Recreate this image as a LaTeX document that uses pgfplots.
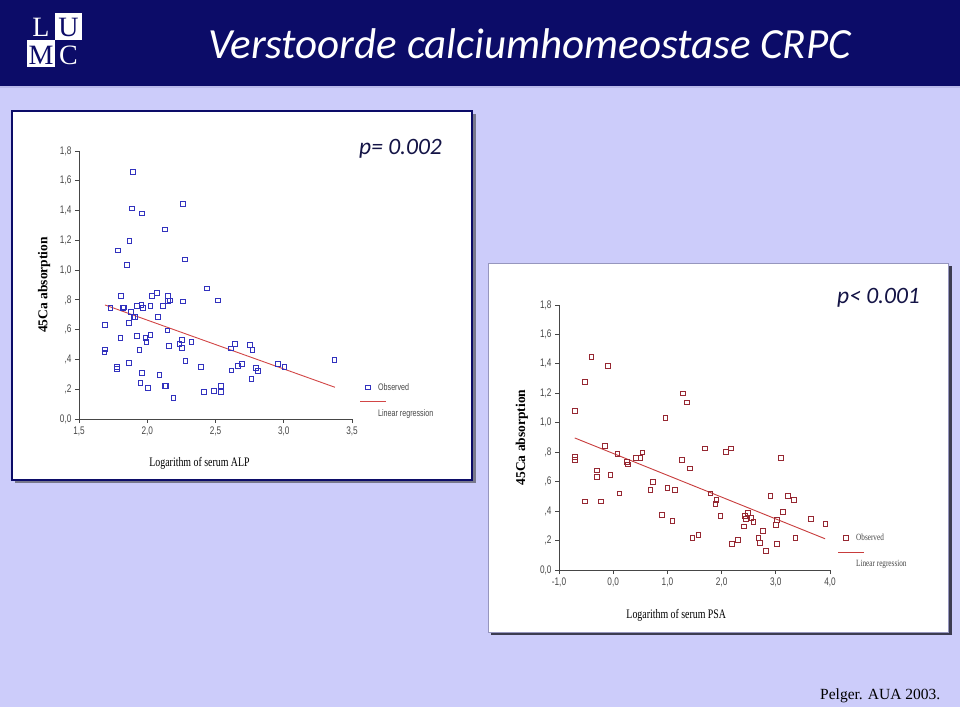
\documentclass[border=0pt]{standalone}
\usepackage{fontspec}
\setmainfont{Liberation Serif}
\newfontfamily\calibri{Carlito}
\newfontfamily\ticksans[FakeStretch=0.75]{Liberation Sans}
\newfontfamily\narrowserif[FakeStretch=0.76]{Liberation Serif}
\usepackage{pgfplots}
\pgfplotsset{compat=1.18}

\definecolor{slidebg}{RGB}{204,204,250}
\definecolor{banner}{RGB}{12,12,104}
\definecolor{ptext}{RGB}{20,20,70}
\definecolor{axisgray}{RGB}{70,70,70}
\definecolor{obsblue}{RGB}{50,50,190}
\definecolor{regred}{RGB}{210,70,70}
\definecolor{obsred}{RGB}{150,40,50}
\definecolor{regred2}{RGB}{200,60,60}

% one SPSS-like scatter panel
\pgfplotsset{
  spss/.style={
    scale only axis, anchor=south west,
    ymin=0, ymax=1.8,
    axis lines=left,
    axis line style={-, draw=axisgray, line width=0.8pt},
    tick align=outside, major tick length=4pt,
    tick style={draw=axisgray, line width=0.8pt},
    ticklabel style={font=\ticksans\fontsize{11}{11}\selectfont, text=axisgray},
    ytick={0,0.2,0.4,0.6,0.8,1.0,1.2,1.4,1.6,1.8},
    yticklabels={{0,0},{,2},{,4},{,6},{,8},{1,0},{1,2},{1,4},{1,6},{1,8}},
    ylabel={45Ca absorption},
    ylabel style={font=\bfseries\fontsize{13.5}{14}\selectfont, anchor=center},
    xlabel style={font=\narrowserif\fontsize{13}{14}\selectfont, anchor=west},
    legend cell align=left,
    legend style={draw=none, fill=none, anchor=north west, inner sep=0pt,
      row sep=16pt, nodes={inner sep=1pt}, text=axisgray,
      /tikz/every odd column/.style={column sep=6pt}},
  },
  obsimg/.style={legend image code/.code={\path[draw=none,fill=none] (0pt,-3pt) rectangle (6pt,3pt);
      \draw[##1] plot coordinates {(3pt,0pt)};}},
  regimg/.style={legend image code/.code={\path[draw=none,fill=none] (0pt,-3pt) rectangle (6pt,3pt);
      \draw[##1,overlay] (-5pt,12pt) -- (21pt,12pt);}},
}

\begin{document}
\begin{tikzpicture}[x=1pt,y=1pt]
\path[use as bounding box] (0,0) rectangle (960,707);
% slide background and banner
\fill[slidebg] (0,0) rectangle (960,707);
\fill[banner] (0,621) rectangle (960,707);
\draw[line width=2pt, color={rgb,255:red,185;green,185;blue,235}] (0,620) -- (960,620);
% logo
\fill[white] (55,667) rectangle (82,694);
\fill[white] (27,640) rectangle (55,667);
\node[anchor=base, inner sep=0pt, text=white, font=\fontsize{28}{28}\selectfont] at (41,670) {L};
\node[anchor=base, inner sep=0pt, text=banner, font=\fontsize{28}{28}\selectfont] at (68.5,670) {U};
\node[anchor=base, inner sep=0pt, text=banner, font=\fontsize{28}{28}\selectfont] at (41,642) {M};
\node[anchor=base, inner sep=0pt, text=white, font=\fontsize{28}{28}\selectfont] at (68.5,642) {C};
% title
\node[anchor=base west, inner sep=0pt, text=white, font=\calibri\itshape\fontsize{43}{50}\selectfont]
  at (208,648) {Verstoorde calciumhomeostase CRPC};
% panels
\fill[color={rgb,255:red,120;green,120;blue,140}] (15,224) rectangle (476,593);
\fill[white] (12,227) rectangle (472,596);
\draw[banner, line width=1.2pt] (12,227) rectangle (472,596);
\fill[color={rgb,255:red,60;green,60;blue,80}] (491,72) rectangle (952,441);
\fill[white] (488,75) rectangle (948,444);
\draw[color={rgb,255:red,150;green,150;blue,190}, line width=0.8pt] (488,75) rectangle (948,444);
% p values and source
\node[anchor=base west, inner sep=0pt, text=ptext, font=\calibri\itshape\fontsize{23.5}{26}\selectfont]
  at (359,552) {p= 0.002};
\node[anchor=base west, inner sep=0pt, text=ptext, font=\calibri\itshape\fontsize{23.5}{26}\selectfont]
  at (837,403) {p< 0.001};
\node[anchor=base west, inner sep=0pt, font=\fontsize{15.5}{17}\selectfont]
  at (820,8) {Pelger. AUA 2003.};

% ---- left panel: ALP
\begin{axis}[spss,
  at={(79pt,288pt)}, width=273pt, height=268pt,
  xmin=1.5, xmax=3.5,
  xtick={1.5,2,2.5,3,3.5},
  xticklabels={{1,5},{2,0},{2,5},{3,0},{3,5}},
  xlabel={Logarithm of serum ALP},
  xlabel style={at={(axis description cs:0.245,-0.164)}},
  ylabel style={at={(axis description cs:-0.128,0.5)}},
  legend style={at={(1.0476,0.138)}, font=\ticksans\fontsize{9.5}{10}\selectfont},
]
\addplot[only marks, mark=square, mark size=2.4pt, obsblue, line width=0.7pt, obsimg] coordinates {
(1.893,1.660) (1.888,1.415) (1.962,1.381) (2.262,1.444) (2.128,1.274) (1.869,1.197)
(1.783,1.133) (2.274,1.072) (1.852,1.034) (2.438,0.878) (2.518,0.797) (1.808,0.826)
(2.033,0.826) (2.071,0.848) (2.152,0.826) (2.152,0.793) (2.166,0.797) (2.259,0.790)
(1.729,0.746) (1.822,0.745) (1.827,0.750) (1.925,0.759) (1.957,0.766) (1.969,0.746)
(2.023,0.759) (2.113,0.759) (1.881,0.719) (1.898,0.685) (1.908,0.685) (2.076,0.687)
(1.690,0.632) (1.864,0.647) (2.147,0.596) (1.803,0.544) (1.925,0.558) (1.986,0.544)
(2.023,0.567) (1.993,0.517) (2.254,0.529) (2.235,0.506) (2.323,0.517) (2.157,0.491)
(2.254,0.479) (1.942,0.466) (1.690,0.468) (1.685,0.448) (2.641,0.506) (2.611,0.475)
(2.753,0.499) (2.770,0.466) (1.864,0.379) (2.279,0.388) (1.776,0.348) (1.778,0.339)
(1.962,0.309) (2.089,0.298) (2.391,0.348) (2.616,0.327) (2.665,0.359) (2.692,0.370)
(2.794,0.341) (2.809,0.321) (2.955,0.370) (3.004,0.348) (3.371,0.397) (2.762,0.271)
(1.949,0.242) (2.005,0.207) (2.128,0.220) (2.135,0.220) (2.191,0.140) (2.416,0.180)
(2.489,0.191) (2.538,0.220) (2.538,0.180)
};
\addlegendentry{Observed}
\addplot[regred, line width=0.9pt, regimg] coordinates {(1.69,0.766) (3.375,0.213)};
\addlegendentry{Linear regression}
\end{axis}

% ---- right panel: PSA
\begin{axis}[spss,
  at={(559pt,137pt)}, width=271pt, height=265pt,
  xmin=-1, xmax=4,
  xtick={-1,0,1,2,3,4},
  xticklabels={{-1,0},{0,0},{1,0},{2,0},{3,0},{4,0}},
  xlabel={Logarithm of serum PSA},
  xlabel style={at={(axis description cs:0.236,-0.170)}},
  ylabel style={at={(axis description cs:-0.137,0.5)}},
  legend style={at={(1.048,0.140)}, font=\narrowserif\fontsize{9.5}{10}\selectfont},
]
\addplot[only marks, mark=square, mark size=2.4pt, obsred, line width=0.7pt, obsimg] coordinates {
(-0.404,1.448) (-0.102,1.389) (-0.526,1.278) (-0.705,1.083) (1.282,1.200) (1.356,1.139)
(0.962,1.035) (-0.151,0.844) (0.076,0.788) (-0.705,0.770) (-0.705,0.747) (0.255,0.736)
(0.273,0.717) (0.421,0.761) (0.500,0.761) (0.537,0.799) (-0.299,0.677) (-0.299,0.631)
(-0.053,0.649) (-0.526,0.466) (-0.231,0.466) (0.113,0.520) (0.734,0.597) (0.685,0.545)
(0.998,0.559) (1.140,0.545) (1.264,0.749) (1.411,0.690) (1.688,0.826) (2.081,0.801)
(2.168,0.826) (3.096,0.761) (0.894,0.375) (1.091,0.334) (1.460,0.216) (1.571,0.237)
(1.792,0.520) (1.903,0.479) (1.884,0.448) (1.976,0.368) (2.192,0.178) (2.297,0.205)
(2.408,0.296) (2.426,0.368) (2.444,0.348) (2.481,0.386) (2.548,0.355) (2.585,0.327)
(2.678,0.216) (2.708,0.185) (2.758,0.264) (2.813,0.132) (2.899,0.504) (3.022,0.339)
(3.004,0.309) (3.022,0.178) (3.133,0.393) (3.219,0.502) (3.330,0.479) (3.360,0.216)
(3.649,0.348) (3.913,0.316)
};
\addlegendentry{Observed}
\addplot[regred2, line width=0.9pt, regimg] coordinates {(-0.71,0.897) (3.91,0.212)};
\addlegendentry{Linear regression}
\end{axis}
\end{tikzpicture}
\end{document}
